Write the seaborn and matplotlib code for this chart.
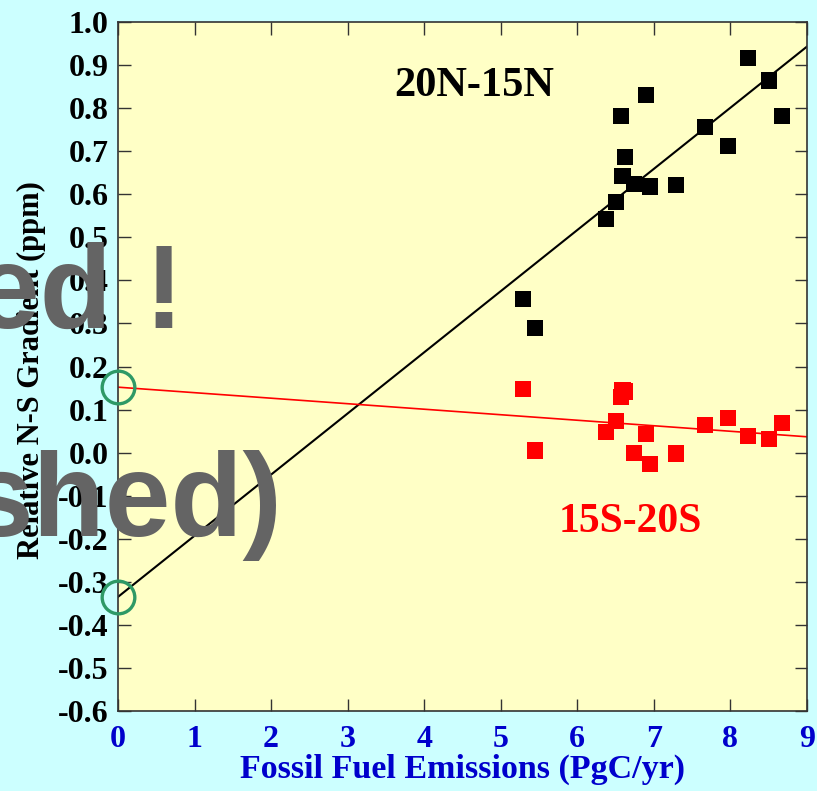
import numpy as np
import pandas as pd
import matplotlib
matplotlib.use("Agg")
import matplotlib.pyplot as plt
import seaborn as sns
from matplotlib.ticker import FixedLocator, FormatStrFormatter

# ---------------- data ----------------
emissions = [5.29, 5.45, 6.37, 6.51, 6.57, 6.59, 6.62, 6.74, 6.90, 6.95,
             7.29, 7.67, 7.97, 8.23, 8.50, 8.67]
grad_20n_15n = [0.356, 0.289, 0.543, 0.583, 0.782, 0.642, 0.687, 0.623, 0.830,
                0.618, 0.621, 0.757, 0.712, 0.916, 0.864, 0.782]
grad_15s_20s = [0.148, 0.005, 0.047, 0.073, 0.130, 0.145, 0.142, -0.001, 0.043,
                -0.027, -0.002, 0.064, 0.080, 0.039, 0.032, 0.069]
fit_north = (-0.335, 0.142)   # intercept, slope
fit_south = (0.152, -0.0128)  # intercept, slope
x_ticks = [0, 1, 2, 3, 4, 5, 6, 7, 8, 9]
y_ticks = [-0.6, -0.5, -0.4, -0.3, -0.2, -0.1, 0.0, 0.1, 0.2, 0.3, 0.4, 0.5,
           0.6, 0.7, 0.8, 0.9, 1.0]

df = pd.DataFrame({
    "x": emissions * 2,
    "y": grad_20n_15n + grad_15s_20s,
    "series": ["20N-15N"] * len(emissions) + ["15S-20S"] * len(emissions),
})

# ---------------- style ----------------
plt.rcParams["axes.unicode_minus"] = False
serif = ["Liberation Serif", "DejaVu Serif"]
sans = ["Liberation Sans", "DejaVu Sans"]

fig = plt.figure(figsize=(8.17, 7.91), dpi=100, facecolor="#ccffff")
ax = fig.add_axes([118 / 817, 1 - 711 / 791, (807 - 118) / 817, (711 - 22) / 791])
ax.set_facecolor("#ffffc6")

# fit lines
ax.axline((0, fit_north[0]), slope=fit_north[1], color="black", lw=1.5, zorder=2)
ax.axline((0, fit_south[0]), slope=fit_south[1], color="#ff0000", lw=1.2, zorder=2)

sns.scatterplot(data=df, x="x", y="y", hue="series",
                palette={"20N-15N": "black", "15S-20S": "#ff0000"},
                marker="s", s=135, linewidth=0,
                legend=False, ax=ax, zorder=3)

# intercept circles
ax.plot([0, 0], [fit_south[0], fit_north[0]], linestyle="none", marker="o",
        markersize=23.5, markerfacecolor="none", markeredgecolor="#2e9966",
        markeredgewidth=2.4, clip_on=False, zorder=5)

ax.set_xlim(0, 9)
ax.set_ylim(-0.6, 1.0)
ax.xaxis.set_major_locator(FixedLocator(x_ticks))
ax.yaxis.set_major_locator(FixedLocator(y_ticks))
ax.yaxis.set_major_formatter(FormatStrFormatter("%.1f"))
ax.xaxis.set_major_formatter(FormatStrFormatter("%d"))
ax.tick_params(axis="both", which="major", direction="in", length=9, width=1.0,
               top=True, right=True, color="#333333")
ax.tick_params(axis="y", pad=7)
ax.tick_params(axis="x", pad=10)
for lbl in ax.get_yticklabels():
    lbl.set_fontfamily(serif)
    lbl.set_fontweight("bold")
    lbl.set_fontsize(23)
    lbl.set_color("black")
for lbl in ax.get_xticklabels():
    lbl.set_fontfamily(serif)
    lbl.set_fontweight("bold")
    lbl.set_fontsize(23)
    lbl.set_color("#0000cc")
for sp in ax.spines.values():
    sp.set_color("#333333")
    sp.set_linewidth(1.2)

ax.set_xlabel("Fossil Fuel Emissions (PgC/yr)", fontfamily=serif,
              fontweight="bold", fontsize=24.5, color="#0000cc", labelpad=0)
ax.set_ylabel("Relative N-S Gradient (ppm)", fontfamily=serif,
              fontweight="bold", fontsize=22, color="black")
ax.yaxis.set_label_coords((46 - 118) / 689, (711 - 370) / 689)

# series labels
fig.text(474 / 817, 1 - 86 / 791, "20N-15N", fontfamily=serif, fontweight="bold",
         fontsize=30.5, color="black", ha="center", va="center")
fig.text(630 / 817, 1 - 522 / 791, "15S-20S", fontfamily=serif, fontweight="bold",
         fontsize=30, color="#ff0000", ha="center", va="center")

# overlay gray text
fig.text(-26 / 817, 1 - 328 / 791, "ed !", fontfamily=sans, fontweight="bold",
         fontsize=85, color="#646464", ha="left", va="baseline", zorder=10)
fig.text(-32 / 817, 1 - 536 / 791, "shed)", fontfamily=sans, fontweight="bold",
         fontsize=85, color="#646464", ha="left", va="baseline", zorder=10)

fig.savefig("out.png", dpi=100, facecolor=fig.get_facecolor())
